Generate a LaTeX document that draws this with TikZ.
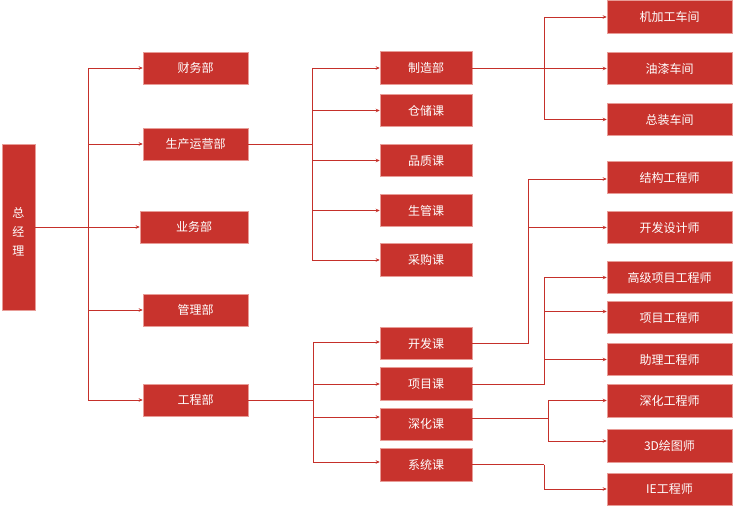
\documentclass[tikz,border=0pt]{standalone}
\usepackage{fontspec}
\newfontfamily\cjk{Noto Sans CJK SC}
\usetikzlibrary{arrows.meta}
\definecolor{boxred}{HTML}{C8332D}
\definecolor{boxedge}{HTML}{E89C97}
\definecolor{linered}{HTML}{C5302A}
\tikzset{
  box/.style={fill=boxred, draw=boxedge, line width=0.5pt, text=white, inner sep=0pt,
    font=\cjk\fontsize{12}{14}\selectfont},
  lvA/.style={box, minimum width=105pt, minimum height=32pt},
  lvB/.style={box, minimum width=92pt, minimum height=32.5pt},
  lvC/.style={box, minimum width=125pt, minimum height=32.5pt},
  wire/.style={draw=linered, line width=0.8pt},
  arr/.style={wire, -{Stealth[length=4pt,width=3.5pt]}},
}
\begin{document}
\begin{tikzpicture}[x=1pt,y=-1pt]
\useasboundingbox (0,0) rectangle (736,510);
% root
\node[box, minimum width=33pt, minimum height=166pt, font=\cjk\fontsize{12}{19}\selectfont, align=center] (zjl) at (18.5,227) {};
\node[text=white, font=\cjk\fontsize{12}{19}\selectfont, align=center, inner sep=0pt] (zjlt) at (18.5,232) {总\\经\\理};
% level 1
\node[lvA] (cwb) at (195.5,68) {财务部};
\node[lvA] (scyy) at (195.5,144) {生产运营部};
\node[lvA, minimum width=108pt] (ywb) at (194,227) {业务部};
\node[lvA] (glb) at (195.5,310) {管理部};
\node[lvA] (gcb) at (195.5,400) {工程部};
% level 2
\node[lvB] (zzb) at (426,68) {制造部};
\node[lvB] (ccb) at (426,110.5) {仓储课};
\node[lvB] (pzk) at (426,160.5) {品质课};
\node[lvB] (sgk) at (426,210.5) {生管课};
\node[lvB] (cgk) at (426,260) {采购课};
\node[lvB] (kfk) at (426,343.5) {开发课};
\node[lvB] (xmk) at (426,384) {项目课};
\node[lvB] (shk) at (426,424) {深化课};
\node[lvB] (xtk) at (426,464.5) {系统课};
% level 3
\node[lvC] (jjg) at (669.5,17) {机加工车间};
\node[lvC] (yq) at (669.5,68.5) {油漆车间};
\node[lvC] (zz) at (669.5,119.5) {总装车间};
\node[lvC] (jg) at (669.5,177.5) {结构工程师};
\node[lvC] (kfs) at (669.5,227.5) {开发设计师};
\node[lvC] (gj) at (669.5,277.5) {高级项目工程师};
\node[lvC] (xmg) at (669.5,317.5) {项目工程师};
\node[lvC] (zl) at (669.5,359.5) {助理工程师};
\node[lvC] (shg) at (669.5,400.5) {深化工程师};
\node[lvC] (hts) at (669.5,445.5) {3D绘图师};
\node[lvC] (ie) at (669.5,489) {IE工程师};
% trunk and port coordinates
\coordinate (t1) at (88,0);
\coordinate (t2) at (312,0);
\coordinate (t3) at (313,0);
\coordinate (t4) at (544,0);
\coordinate (t5) at (528,0);
\coordinate (t6) at (544,0);
\coordinate (t7) at (548,0);
\coordinate (t8) at (544,0);
\coordinate (kfkin) at ([yshift=1.5pt]kfk.west);
\coordinate (shkin) at ([yshift=7pt]shk.west);
\coordinate (xtkin) at ([yshift=2.5pt]xtk.west);
\coordinate (shkout) at ([yshift=6pt]shk.east);
\coordinate (jgin) at ([yshift=-1.5pt]jg.west);
\coordinate (xmgin) at ([yshift=6pt]xmg.west);
\coordinate (htsin) at ([yshift=4.5pt]hts.west);
% level 1 connectors
\draw[arr] (zjl.east |- ywb.west) -- (ywb.west);
\draw[wire] (t1 |- cwb.west) -- (t1 |- gcb.west);
\draw[arr] (t1 |- cwb.west) -- (cwb.west);
\draw[arr] (t1 |- scyy.west) -- (scyy.west);
\draw[arr] (t1 |- glb.west) -- (glb.west);
\draw[arr] (t1 |- gcb.west) -- (gcb.west);
% level 2 connectors
\draw[wire] (scyy.east) -- (t2 |- scyy.east);
\draw[wire] (t2 |- zzb.west) -- (t2 |- cgk.west);
\draw[arr] (t2 |- zzb.west) -- (zzb.west);
\draw[arr] (t2 |- ccb.west) -- (ccb.west);
\draw[arr] (t2 |- pzk.west) -- (pzk.west);
\draw[arr] (t2 |- sgk.west) -- (sgk.west);
\draw[arr] (t2 |- cgk.west) -- (cgk.west);
\draw[wire] (gcb.east) -- (t3 |- gcb.east);
\draw[wire] (t3 |- kfkin) -- (t3 |- xtkin);
\draw[arr] (t3 |- kfkin) -- (kfkin);
\draw[arr] (t3 |- xmk.west) -- (xmk.west);
\draw[arr] (t3 |- shkin) -- (shkin);
\draw[arr] (t3 |- xtkin) -- (xtkin);
% level 3 connectors
\draw[wire] (zzb.east) -- (t4 |- zzb.east);
\draw[wire] (t4 |- jjg.west) -- (t4 |- zz.west);
\draw[arr] (t4 |- jjg.west) -- (jjg.west);
\draw[arr] (t4 |- yq.west) -- (yq.west);
\draw[arr] (t4 |- zz.west) -- (zz.west);
\draw[wire] (kfk.east) -- (t5 |- kfk.east) -- (t5 |- jgin);
\draw[arr] (t5 |- jgin) -- (jgin);
\draw[arr] (t5 |- kfs.west) -- (kfs.west);
\draw[wire] (xmk.east) -- (t6 |- xmk.east) -- (t6 |- gj.west);
\draw[arr] (t6 |- gj.west) -- (gj.west);
\draw[arr] (t6 |- xmgin) -- (xmgin);
\draw[arr] (t6 |- zl.west) -- (zl.west);
\draw[wire] (shkout) -- (t7 |- shkout);
\draw[wire] (t7 |- shg.west) -- (t7 |- htsin);
\draw[arr] (t7 |- shg.west) -- (shg.west);
\draw[arr] (t7 |- htsin) -- (htsin);
\draw[wire] (xtk.east) -- (t8 |- xtk.east);
\draw[arr] (t8 |- xtk.east) |- (ie.west);
\end{tikzpicture}
\end{document}
